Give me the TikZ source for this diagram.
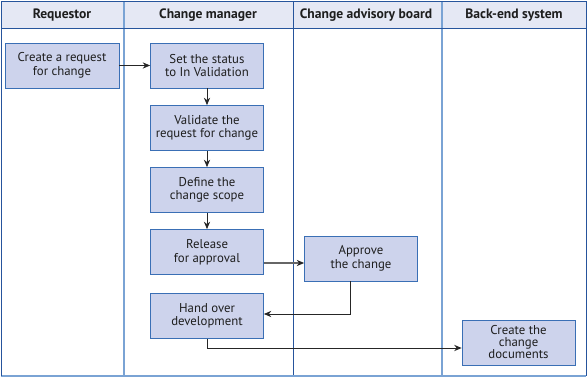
\documentclass[tikz,border=0pt]{standalone}
\usepackage{fontspec}
\setmainfont{PT Sans}
\usepackage{tikz}
\usetikzlibrary{arrows.meta,positioning,calc}
\definecolor{hdrbg}{RGB}{229,232,244}
\definecolor{boxbg}{RGB}{205,211,236}
\definecolor{boxln}{RGB}{58,111,181}
\definecolor{lanedk}{RGB}{38,84,156}
\definecolor{lanelt}{RGB}{122,163,212}
\definecolor{txt}{RGB}{30,30,30}
\tikzset{
  task/.style ={draw=boxln,fill=boxbg,thick,minimum width=113pt,minimum height=45pt,
                inner sep=1pt,align=center,font=\fontsize{12.8}{13.5}\selectfont,text=txt},
  hdr/.style  ={font=\bfseries\fontsize{13.6}{14}\selectfont,text=txt},
  lndk/.style ={draw=lanedk,thick},
  lnlt/.style ={draw=lanelt,line width=1.2pt},
  ar/.style   ={-{Stealth[length=2.6mm,width=2.2mm]},thick,black!85},
  arg/.style  ={-{Stealth[length=2.6mm,width=2.2mm,black!85]},line width=1.1pt,black!60},
}
\begin{document}
\begin{tikzpicture}[x=1pt,y=-1pt]
  \useasboundingbox (0,0) rectangle (587,377);
  % lanes
  \fill[hdrbg] (1,1) rectangle (586,28);
  \draw[lnlt] (124,1) -- (124,376);
  \draw[lndk] (293,1) -- (293,376);
  \draw[lnlt] (442,1) -- (442,376);
  \draw[lndk] (1,28) -- (586,28);
  \draw[lnlt] (1,376) -- (586,376);
  \draw[lndk] (1,376) -- (1,1) -- (586,1) -- (586,376);
  \node[hdr] (h1) at (62,15){Requestor};
  \node[hdr] (h2) at (208,15){Change manager};
  \node[hdr] (h3) at (366,15){Change advisory board};
  \node[hdr] (h4) at (514,15){Back-end system};
  % tasks
  \node[task,minimum width=114pt] (req) at (62,65.5){Create a request\\for change};
  \node[task] (setst) at (207,65.5){Set the status\\to In Validation};
  \node[task] (valid) at (207,128){Validate the\\request for change};
  \node[task] (scope) at (207,190){Define the\\change scope};
  \node[task] (rel)   at (207,252){Release\\for approval};
  \node[task] (hand)  at (207,316){Hand over\\development};
  \node[task] (appr)  at (361,258.5){Approve\\the change};
  \node[task,font=\fontsize{12.8}{12}\selectfont] (docs) at (518.5,342.5){Create the\\change\\documents};
  % flow
  \draw[ar] (req) -- (setst);
  \draw[ar] (setst) -- (valid);
  \draw[ar] (valid) -- (scope);
  \draw[ar] (scope) -- (rel);
  \draw[arg] ([yshift=-11pt]rel.east) -- ([yshift=-11pt]rel.east -| appr.west);
  \draw[ar] ([xshift=-11pt]appr.south) |- ([yshift=2pt]hand.east);
  \draw[ar] (hand.south) |- ([yshift=-5.5pt]docs.west);
\end{tikzpicture}
\end{document}
